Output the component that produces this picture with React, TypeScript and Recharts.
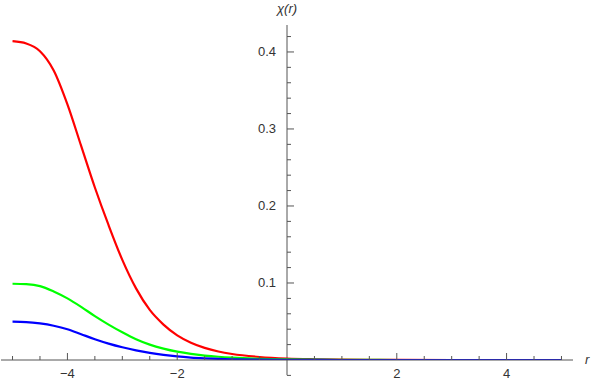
import React from 'react';
import { LineChart, Line, XAxis, YAxis, ReferenceLine } from 'recharts';

const rGrid = [-5, -4.75, -4.5, -4.25, -4, -3.75, -3.5, -3.25, -3, -2.75, -2.5, -2.25, -2, -1.75, -1.5, -1.25, -1, -0.5, 0, 0.5, 1, 1.5, 2, 3, 4, 5];
const chiRed = [0.414, 0.411, 0.401, 0.376, 0.332, 0.278, 0.224, 0.175, 0.130, 0.093, 0.065, 0.046, 0.032, 0.0225, 0.0158, 0.0111, 0.0078, 0.0039, 0.0019, 0.001, 0.0005, 0.0002, 0.0001, 0, 0, 0];
const chiGreen = [0.099, 0.0985, 0.096, 0.089, 0.080, 0.069, 0.057, 0.046, 0.036, 0.027, 0.020, 0.0148, 0.0108, 0.0079, 0.0058, 0.0042, 0.003, 0.0015, 0.0008, 0.0004, 0.0002, 0.0001, 0, 0, 0, 0];
const chiBlue = [0.0498, 0.0493, 0.0475, 0.0445, 0.040, 0.0335, 0.027, 0.0213, 0.0165, 0.0125, 0.0092, 0.0066, 0.0046, 0.0032, 0.0022, 0.0014, 0.0009, 0.0004, 0.0002, 0.0001, 0, 0, 0, 0, 0, 0];

const xTicks = [-5, -4.5, -4, -3.5, -3, -2.5, -2, -1.5, -1, -0.5, 0.5, 1, 1.5, 2, 2.5, 3, 3.5, 4, 4.5, 5];
const xMajor = [-4, -2, 2, 4];
const yTicks = [-0.02, 0.02, 0.04, 0.06, 0.08, 0.1, 0.12, 0.14, 0.16, 0.18, 0.2, 0.22, 0.24, 0.26, 0.28, 0.3, 0.32, 0.34, 0.36, 0.38, 0.4, 0.42];
const yMajor = [0.1, 0.2, 0.3, 0.4];

const W = 593;
const H = 381;
const margin = { top: 25, right: 20, left: 0, bottom: 0 };
const X_AXIS_H = 21;
const Y_AXIS_W = 1;
const xDomain: [number, number] = [-5.21, 5.21];
const yDomain: [number, number] = [0, 0.435];
const plotLeft = margin.left + Y_AXIS_W;
const plotW = W - plotLeft - margin.right;
const zeroX = plotLeft + ((0 - xDomain[0]) / (xDomain[1] - xDomain[0])) * plotW;

const AX = '#555555';
const TXT = '#333333';
const FONT = '"Liberation Sans", Arial, sans-serif';

const data = rGrid.map((r, i) => ({ r, red: chiRed[i], green: chiGreen[i], blue: chiBlue[i] }));

const fmt = (v: number) => (v < 0 ? '\u2212' + Math.abs(v) : String(v));

const XTick = (props: any) => {
  const { x, y, payload } = props;
  const v = payload.value;
  const major = xMajor.some((m) => Math.abs(m - v) < 1e-9);
  return (
    <g>
      <line x1={x} x2={x} y1={y} y2={y - (major ? 7 : 4)} stroke={AX} strokeWidth={1} />
      {major && (
        <text x={x} y={y + 18} textAnchor="middle" fontSize={13} fontFamily={FONT} fill={TXT}>
          {fmt(v)}
        </text>
      )}
    </g>
  );
};

const YTick = (props: any) => {
  const { y, payload } = props;
  const v = payload.value;
  const major = yMajor.some((m) => Math.abs(m - v) < 1e-9);
  return (
    <g>
      <line x1={zeroX} x2={zeroX + (major ? 7 : 4)} y1={y} y2={y} stroke={AX} strokeWidth={1} />
      {major && (
        <text x={zeroX - 11} y={y + 4.5} textAnchor="end" fontSize={13} fontFamily={FONT} fill={TXT}>
          {String(v)}
        </text>
      )}
    </g>
  );
};

export default function App() {
  return (
    <div style={{ position: 'absolute', left: 0, top: 0, width: W, height: H, background: '#fff' }}>
      <LineChart width={W} height={H} data={data} margin={margin}>
        <XAxis
          dataKey="r"
          type="number"
          domain={xDomain}
          ticks={xTicks}
          interval={0}
          height={X_AXIS_H}
          tickSize={0}
          tickMargin={0}
          tickLine={false}
          axisLine={{ stroke: AX, strokeWidth: 1 }}
          tick={<XTick />}
          allowDataOverflow
        />
        <YAxis
          type="number"
          domain={yDomain}
          ticks={yTicks}
          interval={0}
          width={Y_AXIS_W}
          tickSize={0}
          tickMargin={0}
          tickLine={false}
          axisLine={false}
          tick={<YTick />}
          allowDataOverflow
        />
        <ReferenceLine
          segment={[{ x: 0, y: -0.0197 }, { x: 0, y: 0.435 }]}
          stroke={AX}
          strokeWidth={1}
          ifOverflow="visible"
        />
        <Line type="monotone" dataKey="red" stroke="#ff0000" strokeWidth={2.2} dot={false} isAnimationActive={false} />
        <Line type="monotone" dataKey="green" stroke="#00ff00" strokeWidth={2.2} dot={false} isAnimationActive={false} />
        <Line type="monotone" dataKey="blue" stroke="#0000ff" strokeWidth={2.2} dot={false} isAnimationActive={false} />
      </LineChart>
      <span
        style={{
          position: 'absolute', left: zeroX, top: 2, transform: 'translateX(-50%)', fontSize: 13,
          lineHeight: '13px', fontStyle: 'italic', fontFamily: FONT, color: TXT, whiteSpace: 'nowrap',
        }}
      >
        χ(r)
      </span>
      <span
        style={{
          position: 'absolute', left: 585, top: 353, fontSize: 13, lineHeight: '13px',
          fontStyle: 'italic', fontFamily: FONT, color: TXT,
        }}
      >
        r
      </span>
    </div>
  );
}
